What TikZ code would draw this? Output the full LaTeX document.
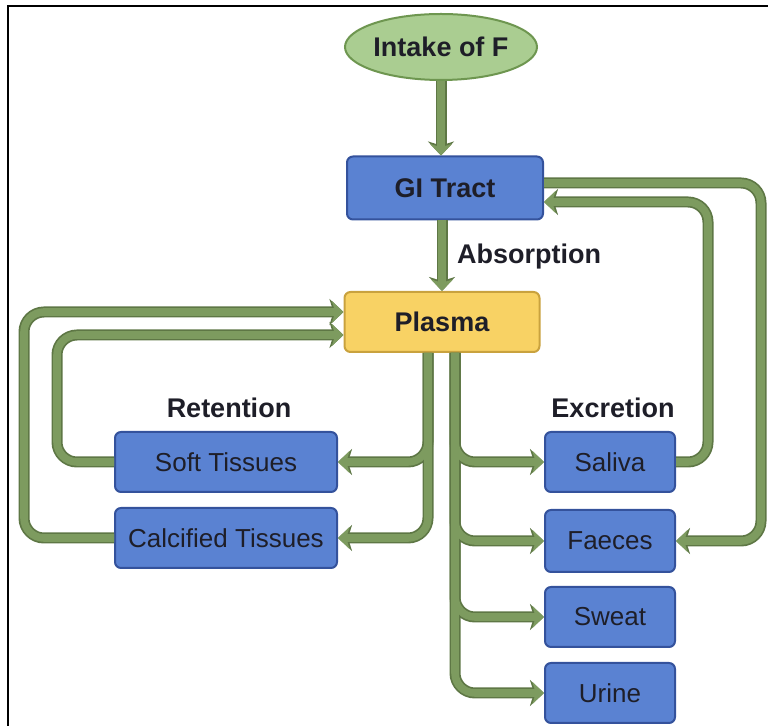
\documentclass[tikz,border=0pt]{standalone}
\usepackage{fontspec}
\setmainfont{Liberation Sans}
\usepackage{xcolor}
\usepackage{tikz}
\usetikzlibrary{arrows.meta, positioning, calc, shapes}

\definecolor{flowgreen}{HTML}{7D9B5F}
\definecolor{flowdark}{HTML}{5E7745}
\definecolor{boxblue}{HTML}{5A82D2}
\definecolor{boxedge}{HTML}{34529C}
\definecolor{plasmafill}{HTML}{F8D264}
\definecolor{plasmaedge}{HTML}{C9A23E}
\definecolor{intakefill}{HTML}{AACD91}
\definecolor{intakeedge}{HTML}{6E9650}
\definecolor{inktext}{HTML}{1E1E28}

\begin{document}
\begin{tikzpicture}[x=0.5pt, y=-0.5pt,
    every node/.style={text=inktext, font=\fontsize{13pt}{15pt}\selectfont},
    organ/.style={draw=boxedge, line width=1pt, fill=boxblue, rounded corners=3pt,
        minimum width=65pt, minimum height=30pt, inner sep=0pt},
    tissue/.style={organ, minimum width=111pt},
    heading/.style={font=\fontsize{13.5pt}{15pt}\selectfont\bfseries},
    flowedge/.style={draw=flowdark, line width=5.5pt, rounded corners=10pt,
        -{Stealth[length=7pt, width=13pt, inset=2pt]}},
    flowfill/.style={draw=flowgreen, line width=3.8pt, rounded corners=10pt,
        -{Stealth[length=5.8pt, width=11pt, inset=1.7pt]}}]

    % cornice
    \useasboundingbox (0,0) rectangle (768,726);
    \draw[line width=1.2pt] (8,726) -- (8,6) -- (768,6);

    % apporto
    \node[ellipse, draw=intakeedge, line width=1pt, fill=intakefill, heading,
        minimum width=96pt, minimum height=33pt, inner sep=0pt] (intake) at (441,47) {Intake of F};

    % tratto GI e plasma
    \node[organ, heading, minimum width=98pt, minimum height=31.5pt] (gi) at (445,188) {GI Tract};
    \node[organ, heading, draw=plasmaedge, fill=plasmafill, minimum width=97.5pt] (plasma) at (442,322) {Plasma};
    \node[heading, anchor=west] (absorb) at (450,257) {Absorption};

    % ritenzione
    \node[heading] (retain) at (229,408) {Retention};
    \node[tissue] (soft) at (226,462) {Soft Tissues};
    \node[tissue] (calc) at (226,538) {Calcified Tissues};

    % escrezione
    \node[heading] (excrete) at (613,408) {Excretion};
    \node[organ] (saliva) at (610,462) {Saliva};
    \node[organ, minimum height=31pt] (faeces) at (610,541) {Faeces};
    \node[organ] (sweat) at (610,617) {Sweat};
    \node[organ] (urine) at (610,693) {Urine};

    % frecce: prima il bordo, poi il riempimento
    \foreach \pass in {flowedge, flowfill} {
        \draw[\pass] (intake.south) -- (intake.south |- gi.north);
        \draw[\pass] (gi.south -| plasma) -- (plasma.north);

        % rami verso i tessuti
        \draw[\pass] ([xshift=-7pt]plasma.south) |- (soft.east);
        \draw[\pass] ([xshift=-7pt]plasma.south) |- (calc.east);

        % rami verso l'escrezione
        \foreach \out in {urine, sweat, faeces, saliva}
            \draw[\pass] ([xshift=6.5pt]plasma.south) |- (\out.west);

        % ritorni al plasma
        \draw[\pass] (soft.west) -- ++(-57,0) |- ([yshift=-6.5pt]plasma.west);
        \draw[\pass] (calc.west) -- ++(-90,0) |- ([yshift=5pt]plasma.west);

        % saliva e feci
        \draw[\pass] (saliva.east) -- ++(32,0) |- ([yshift=-7pt]gi.east);
        \draw[\pass] ([yshift=2.5pt]gi.east) -- ++(217,0) |- (faeces.east);
    }

\end{tikzpicture}
\end{document}
